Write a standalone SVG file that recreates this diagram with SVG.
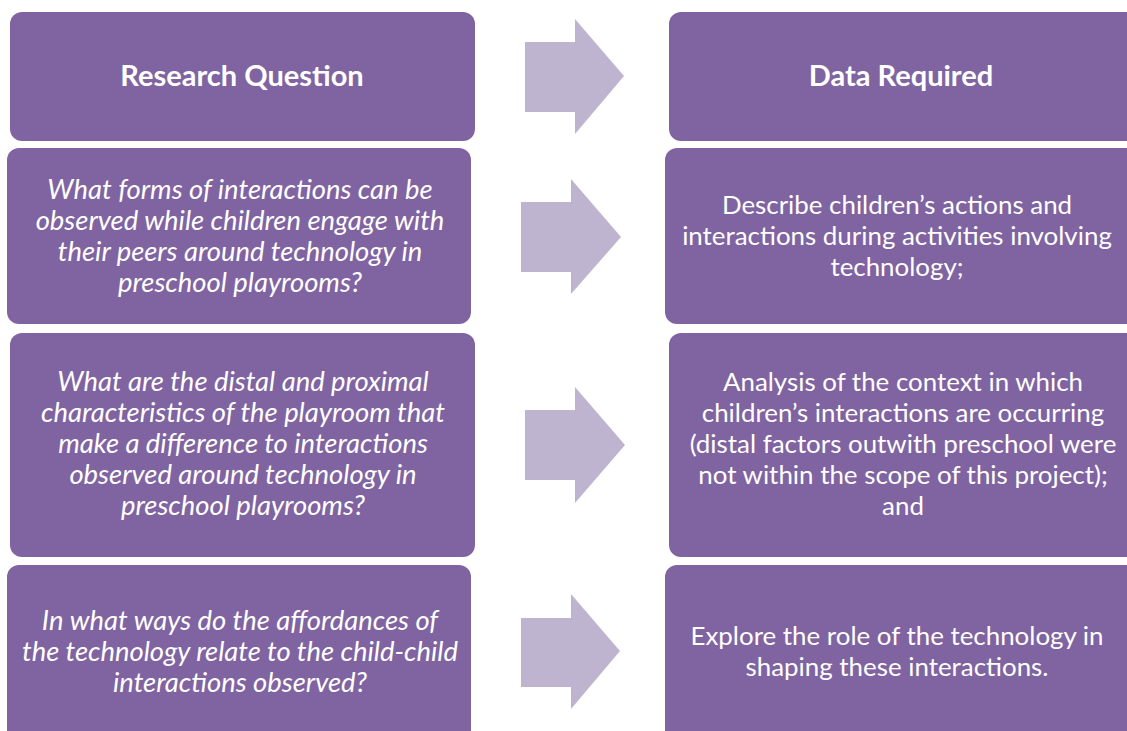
<svg xmlns="http://www.w3.org/2000/svg" width="1127" height="731" viewBox="0 0 1127 731">
<style>
.box{fill:#8064A2;}
.arr{fill:#BEB4D0;}
text{font-family:Lato,"Liberation Sans",sans-serif;fill:#FFFFFF;text-anchor:middle;font-size:25.9px;}
.hd{font-weight:bold;font-size:29px;}
.q{font-style:italic;font-size:27.4px;}
</style>
<rect width="1127" height="731" fill="#FFFFFF"/>
<g id="connectors">
<polygon class="arr" points="525,42 575,42 575,19 624,76 575,134 575,112 525,112"/>
<polygon class="arr" points="521,202 571,202 571,179 621,237 571,294 571,272 521,272"/>
<polygon class="arr" points="525,410 575,410 575,387 625,445 575,503 575,480 525,480"/>
<polygon class="arr" points="521,618 571,618 571,594 620,651 571,709 571,687 521,687"/>
</g>
<g id="rq-head">
<rect class="box" x="10" y="12" width="465" height="129" rx="12"/>
<text class="hd" x="242" y="86">Research Question</text>
</g>
<g id="dr-head">
<rect class="box" x="669" y="12" width="470" height="129" rx="12"/>
<text class="hd" x="901" y="86">Data Required</text>
</g>
<g id="rq1">
<rect class="box" x="7" y="148" width="464" height="176" rx="12"/>
<text class="q" x="240"><tspan x="240" y="199">What forms of interactions can be</tspan><tspan x="240" y="230">observed while children engage with</tspan><tspan x="240" y="261">their peers around technology in</tspan><tspan x="240" y="292">preschool playrooms?</tspan></text>
</g>
<g id="dr1">
<rect class="box" x="665" y="148" width="474" height="176" rx="12"/>
<text x="897"><tspan x="897" y="214">Describe children’s actions and</tspan><tspan x="897" y="245">interactions during activities involving</tspan><tspan x="897" y="276">technology;</tspan></text>
</g>
<g id="rq2">
<rect class="box" x="10" y="333" width="465" height="224" rx="12"/>
<text class="q" x="243"><tspan x="243" y="391">What are the distal and proximal</tspan><tspan x="243" y="422">characteristics of the playroom that</tspan><tspan x="243" y="453">make a difference to interactions</tspan><tspan x="243" y="484">observed around technology in</tspan><tspan x="243" y="515">preschool playrooms?</tspan></text>
</g>
<g id="dr2">
<rect class="box" x="669" y="333" width="470" height="224" rx="12"/>
<text x="903"><tspan x="903" y="391">Analysis of the context in which</tspan><tspan x="903" y="422">children’s interactions are occurring</tspan><tspan x="903" y="453">(distal factors outwith preschool were</tspan><tspan x="903" y="484">not within the scope of this project);</tspan><tspan x="903" y="515">and</tspan></text>
</g>
<g id="rq3">
<rect class="box" x="7" y="565" width="464" height="180" rx="12"/>
<text class="q" x="240"><tspan x="240" y="630">In what ways do the affordances of</tspan><tspan x="240" y="661">the technology relate to the child-child</tspan><tspan x="240" y="692">interactions observed?</tspan></text>
</g>
<g id="dr3">
<rect class="box" x="665" y="565" width="474" height="180" rx="12"/>
<text x="897"><tspan x="897" y="645">Explore the role of the technology in</tspan><tspan x="897" y="676">shaping these interactions.</tspan></text>
</g>
</svg>
